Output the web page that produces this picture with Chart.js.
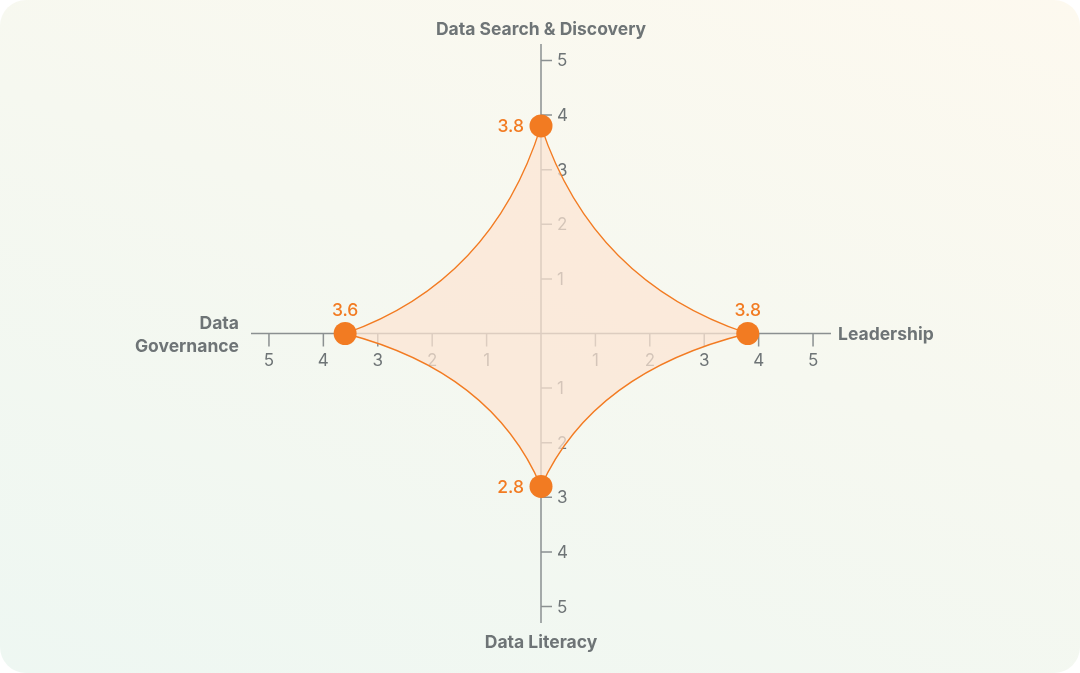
<!DOCTYPE html>
<html>
<head>
<meta charset="utf-8">
<script src="https://cdn.jsdelivr.net/npm/chart.js@4.4.1/dist/chart.umd.min.js"></script>
<style>
  html, body { margin: 0; padding: 0; background: #ffffff; }
  #card {
    position: absolute; left: 0; top: 0; width: 1080px; height: 673px;
    border-radius: 26px; overflow: hidden;
    background: linear-gradient(200deg, #fdf9ef 0%, #f6f8f0 45%, #eef7f2 100%);
  }
  canvas { display: block; }
</style>
</head>
<body>
<div id="card"><canvas id="chart" width="1080" height="673"></canvas></div>
<script>
// Axis names, clockwise from the top
const categories = ["Data Search & Discovery", "Leadership", "Data Literacy", "Data Governance"];
const scores = [3.8, 3.8, 2.8, 3.6];
const tickValues = [-5, -4, -3, -2, -1, 1, 2, 3, 4, 5];

const orange = "#f27b22";
const axisGray = "#8b9091";
const textGray = "#6e7476";
const font = "Inter, 'Noto Sans', sans-serif";

// direction of each arm: top, right, bottom, left
const dirs = [[0, 1], [1, 0], [0, -1], [-1, 0]];
const points = scores.map((v, i) => ({ x: dirs[i][0] * v, y: dirs[i][1] * v }));
points.push(points[0]); // close the shape

// axes crossing at the origin, drawn before the fill so it sits on top
const crossAxes = {
  id: "crossAxes",
  beforeDatasetsDraw(chart) {
    const { ctx, scales: { x, y } } = chart;
    const cx = x.getPixelForValue(0);
    const cy = y.getPixelForValue(0);
    ctx.save();
    ctx.strokeStyle = axisGray;
    ctx.lineWidth = 1.5;
    ctx.beginPath();
    ctx.moveTo(x.left, cy); ctx.lineTo(x.right, cy);
    ctx.moveTo(cx, y.top); ctx.lineTo(cx, y.bottom);
    for (const v of tickValues) {
      const px = x.getPixelForValue(v);
      ctx.moveTo(px, cy); ctx.lineTo(px, cy + 13);
      const py = y.getPixelForValue(v);
      ctx.moveTo(cx, py); ctx.lineTo(cx + 11, py);
    }
    ctx.stroke();

    ctx.fillStyle = textGray;
    ctx.font = "17px " + font;
    ctx.textBaseline = "middle";
    for (const v of tickValues) {
      ctx.textAlign = "center";
      ctx.fillText(Math.abs(v), x.getPixelForValue(v), cy + 27);
      ctx.textAlign = "left";
      ctx.fillText(Math.abs(v), cx + 16, y.getPixelForValue(v) + 1);
    }

    ctx.font = "bold 17.5px " + font;
    ctx.textAlign = "center";
    ctx.fillText(categories[0], cx, y.top - 14);
    ctx.fillText(categories[2], cx, y.bottom + 20);
    ctx.textAlign = "left";
    ctx.fillText(categories[1], x.right + 7, cy + 1);
    ctx.textAlign = "right";
    const words = categories[3].split(" ");
    ctx.fillText(words[0], x.left - 12, cy - 10);
    ctx.fillText(words.slice(1).join(" "), x.left - 12, cy + 13);
    ctx.restore();

    // each edge is a quadratic curve whose control point sits a quarter of
    // the way from the centre to the sum of its two end points
    const pts = chart.getDatasetMeta(0).data;
    for (let i = 0; i < pts.length - 1; i++) {
      const a = pts[i], b = pts[i + 1];
      const kx = cx + (a.x - cx + b.x - cx) / 4;
      const ky = cy + (a.y - cy + b.y - cy) / 4;
      a.cp2x = a.x + (2 / 3) * (kx - a.x);
      a.cp2y = a.y + (2 / 3) * (ky - a.y);
      b.cp1x = b.x + (2 / 3) * (kx - b.x);
      b.cp1y = b.y + (2 / 3) * (ky - b.y);
    }
  },
  afterDatasetsDraw(chart) {
    const { ctx } = chart;
    const meta = chart.getDatasetMeta(0).data;
    ctx.save();
    ctx.fillStyle = orange;
    ctx.font = "500 17.5px " + font;
    ctx.textBaseline = "middle";
    scores.forEach((v, i) => {
      const pt = meta[i];
      const label = v.toFixed(1);
      if (dirs[i][0] === 0) {
        ctx.textAlign = "right";
        ctx.fillText(label, pt.x - 17, pt.y + 1);
      } else {
        ctx.textAlign = "center";
        ctx.fillText(label, pt.x, pt.y - 23);
      }
    });
    ctx.restore();
  }
};

new Chart(document.getElementById("chart"), {
  type: "scatter",
  data: {
    datasets: [{
      data: points,
      showLine: true,
      tension: 0.3,
      fill: "shape",
      backgroundColor: "rgba(252, 228, 211, 0.72)",
      borderColor: orange,
      borderWidth: 1.3,
      pointRadius: points.map((p, i) => (i < scores.length ? 11.5 : 0)),
      pointBackgroundColor: orange,
      pointBorderWidth: 0,
      pointHoverRadius: 11.5
    }]
  },
  options: {
    responsive: false,
    animation: false,
    layout: { padding: { left: 251, right: 249, top: 44, bottom: 50 } },
    scales: {
      x: { display: false, min: -5.33, max: 5.33 },
      y: { display: false, min: -5.3, max: 5.3 }
    },
    plugins: {
      legend: { display: false },
      tooltip: { enabled: false }
    },
    clip: false
  },
  plugins: [crossAxes]
});
</script>
</body>
</html>
